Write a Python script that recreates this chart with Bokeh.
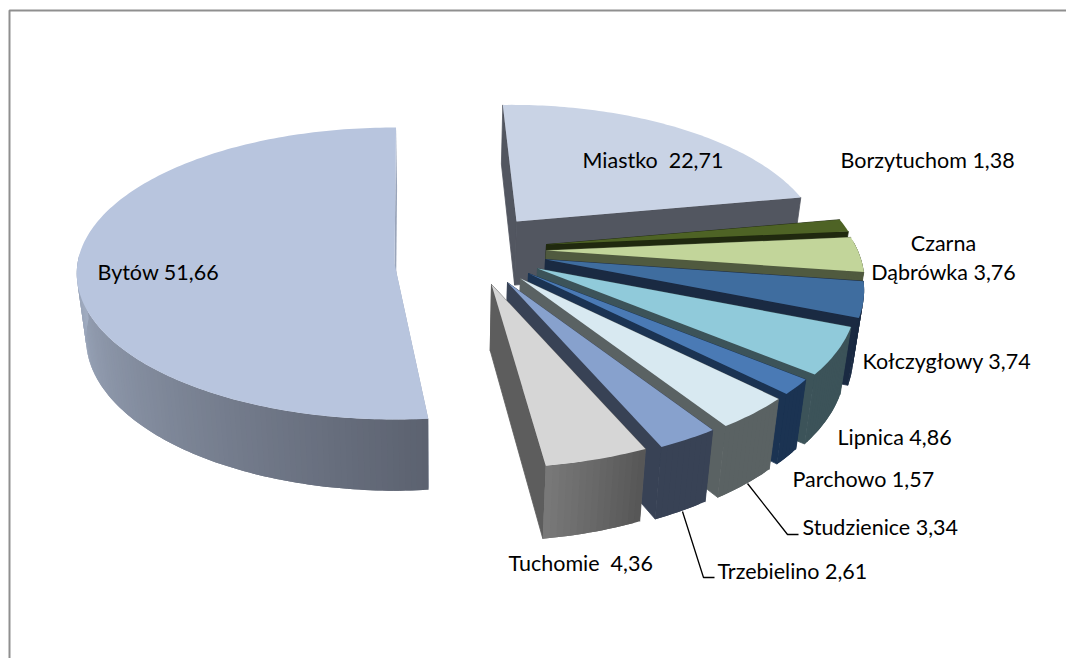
import math
from bokeh.plotting import figure
from bokeh.models import Range1d, ColumnDataSource
from bokeh.core.properties import value
from bokeh.embed import file_html
from bokeh.resources import INLINE

categories = ["Miastko", "Borzytuchom", "Czarna\nDąbrówka", "Kołczygłowy", "Lipnica",
              "Parchowo", "Studzienice", "Trzebielino", "Tuchomie", "Bytów"]
shares = [22.71, 1.38, 3.76, 3.74, 4.86, 1.57, 3.34, 2.61, 4.36, 51.66]

# ---- styling / layout, kept apart from the data ----
top_colors = ["#c9d3e5", "#4e6325", "#c2d59a", "#3f6d9f", "#90cada",
              "#4a7ab5", "#d8e9f1", "#87a1cd", "#d6d6d6", "#b8c5de"]
cut_colors = ["#525660", "#20290f", "#505a3f", "#1a2a42", "#3c5359",
              "#1b3352", "#5a6263", "#384255", "#5d5d5d", "#9aa5ba"]
arc_from = ["#525660", "#20290f", "#505a3f", "#1a2a42", "#3c5359",
            "#1b3352", "#5a6263", "#384255", "#575757", "#5c6270"]
arc_to = ["#525660", "#20290f", "#505a3f", "#1a2a42", "#3c5359",
          "#1b3352", "#5a6263", "#384255", "#787878", "#a3afc4"]
# per-slice explosion, as screen offset from the pie centre
CENTRE = (470, 255)
explode_dx = [46, 76, 76, 75, 67, 58, 50, 37, 21, -76]
explode_dy = [-34, -11, -5, 4, 13, 18, 23, 27, 29, 8]
label_x = [582, 840, 943, 862, 837, 792, 802, 717, 508, 97]
label_y = [159, 159, 257, 360, 436, 478, 526, 570, 562, 271]
label_gap = [" \u00a0", " ", " ", " ", " ", " ", " ", " ", " \u00a0", " "]
label_align = ["left", "left", "center"] + ["left"] * 7

W, H = 1066, 658
p = figure(width=W, height=H, x_range=Range1d(0, W), y_range=Range1d(H, 0),
           output_backend="svg", toolbar_location=None, min_border=0)
p.axis.visible = False
p.grid.visible = False
p.outline_line_color = None
p.background_fill_color = "white"


def rgb(h):
    return [int(h[i:i + 2], 16) for i in (1, 3, 5)]


def mix(a, b, t):
    ca, cb = rgb(a), rgb(b)
    return "#%02x%02x%02x" % tuple(round(ca[i] + (cb[i] - ca[i]) * t) for i in range(3))


def project(apex, theta, big, r=1.0):
    if big:
        rot, k, S, C, f, lean = -0.3, 0.0685, 317.0, 2121.0, 1.0, 0.0
    else:
        rot, k, S, C, lean = 2.0, 0.203, 312.0, 720.0, 5.0
        f = min(1.0, 0.96 + 0.0013 * (apex[1] - 221))
    phi = math.radians(theta - rot)
    Y = r * math.cos(phi)
    X = r * math.sin(phi)
    m = 1 / (1 + k * Y)
    return apex[0] + f * S * X * m - lean * max(0.0, Y) ** 2, apex[1] + f * C * (m - 1)


def drop(pt):
    x, y = pt
    T = 66 + (y - 284) * 7 / 181
    return x - 0.028 * (x - 440) * T / 72, y + T


def poly(pts, color, stroke=False):
    p.patch([q[0] for q in pts], [q[1] for q in pts], fill_color=color,
            line_color=color if stroke else None, line_width=0.8)


total = sum(shares)
cum = 0.0
for i, v in enumerate(shares):
    t0 = cum / total * 360
    cum += v
    t1 = cum / total * 360
    apex = (CENTRE[0] + explode_dx[i], CENTRE[1] + explode_dy[i])
    big = categories[i] == "Bytów"
    n = max(2, int(t1 - t0))
    thetas = [t0 + (t1 - t0) * j / n for j in range(n + 1)]
    arc = [project(apex, t, big) for t in thetas]
    # cut faces
    for edge in (arc[0], arc[-1]):
        poly([apex, edge, drop(edge), drop(apex)], cut_colors[i], stroke=not big)
    # rim, in overlapping strips so that it can shade along the arc
    for j in range(n):
        if math.cos(math.radians(thetas[j + 1])) > 0.03 and math.cos(math.radians(thetas[j])) > 0.03:
            continue
        t = min(1.0, j / (n * 0.55)) if big else j / max(1, n - 1)
        e = min(j + 2, n)
        strip = arc[j:e + 1]
        poly(strip + [drop(q) for q in reversed(strip)], mix(arc_from[i], arc_to[i], t))
    # top
    poly([apex] + arc, top_colors[i])

# leader lines
p.line([747, 787, 798], [483, 534, 534], line_color="black", line_width=1.3)
p.line([682, 703, 714], [511, 577, 577], line_color="black", line_width=1.3)

# chart-area border (its right and bottom sides fall outside the window)
p.line([9, 9, W], [H, 10, 10], line_color="#8f8f8f", line_width=2)

labels = [f"{c}{g}{v:.2f}".replace(".", ",") for c, g, v in zip(categories, label_gap, shares)]
src = ColumnDataSource(dict(x=label_x, y=label_y, t=labels, a=label_align))
p.text(x="x", y="y", text="t", source=src, text_font=value("Lato"), text_font_size="21.5px",
       text_baseline="middle", text_align="a", text_color="black", text_line_height=1.15)

open("out.html", "w").write(file_html(p, INLINE))
